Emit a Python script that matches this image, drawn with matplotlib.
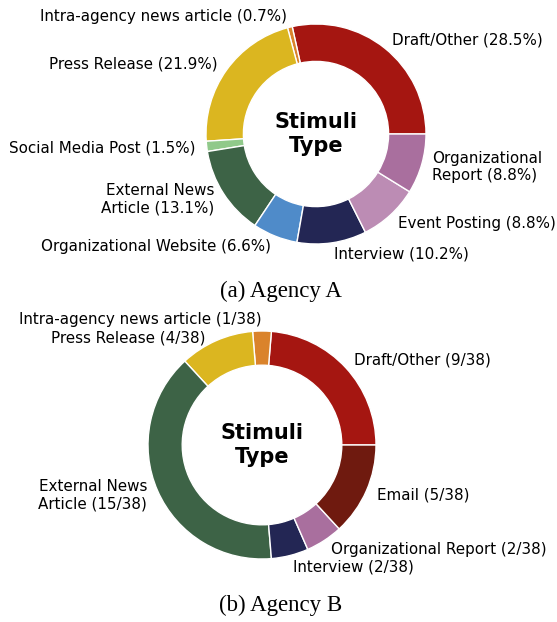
import matplotlib.pyplot as plt

# Agency A
labels_a = ['Draft/Other (28.5%)', 'Intra-agency news article (0.7%)', 'Press Release (21.9%)',
            'Social Media Post (1.5%)', 'External News\nArticle (13.1%)', 'Organizational Website (6.6%)',
            'Interview (10.2%)', 'Event Posting (8.8%)', 'Organizational\nReport (8.8%)']
values_a = [28.5, 0.7, 21.9, 1.5, 13.1, 6.6, 10.2, 8.8, 8.8]
colors_a = ['#a51611', '#da832b', '#dbb620', '#90c98a', '#3d6346', '#4f8bc9',
            '#232654', '#bc8cb4', '#a96f9e']

# Agency B
labels_b = ['Draft/Other (9/38)', 'Intra-agency news article (1/38)', 'Press Release (4/38)',
            'External News\nArticle (15/38)', 'Interview (2/38)', 'Organizational Report (2/38)',
            'Email (5/38)']
values_b = [9, 1, 4, 15, 2, 2, 5]
colors_b = ['#a51611', '#da832b', '#dbb620', '#3d6346', '#232654', '#a96f9e', '#6f1a0f']

W, H = 557, 622
fig = plt.figure(figsize=(W / 100, H / 100), dpi=100)


def donut(cx, cy, r, width, values, labels, colors):
    half = 1.2 * r
    ax = fig.add_axes([(cx - half) / W, (H - cy - half) / H, 2 * half / W, 2 * half / H])
    wedges, texts = ax.pie(values, labels=labels, colors=colors, startangle=0,
                           counterclock=True, labeldistance=1.1,
                           wedgeprops=dict(width=width, edgecolor='white', linewidth=1),
                           textprops=dict(fontsize=10.9))
    ax.text(0, 0, 'Stimuli\nType', ha='center', va='center', fontsize=15,
            fontweight='bold', linespacing=1.2)
    ax.set_xlim(-1.2, 1.2)
    ax.set_ylim(-1.2, 1.2)
    ax.set_aspect('equal')
    ax.axis('off')
    return ax, texts


ax_a, texts_a = donut(316, 134, 110, 0.34, values_a, labels_a, colors_a)
ax_b, texts_b = donut(262, 445, 114, 0.3, values_b, labels_b, colors_b)

# label tweaks for the small wedges in B
texts_b[1].set_ha('right')
x, y = texts_b[2].get_position()
texts_b[2].set_position((x - 0.053, y - 0.07))

fig.text(281 / W, 1 - 291 / H, '(a) Agency A', ha='center', va='center',
         fontsize=16.5, family='Liberation Serif')
fig.text(281 / W, 1 - 605 / H, '(b) Agency B', ha='center', va='center',
         fontsize=16.5, family='Liberation Serif')

fig.savefig('out.png', dpi=100)
